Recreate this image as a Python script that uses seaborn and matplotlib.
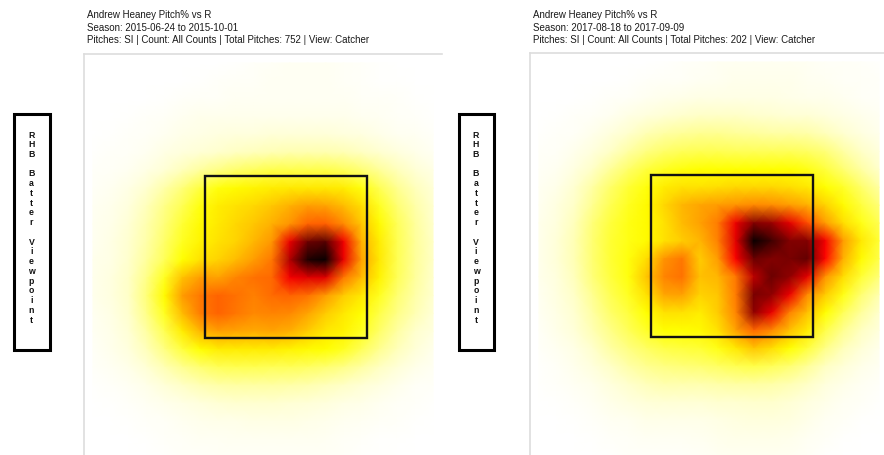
import numpy as np
import pandas as pd
import matplotlib
matplotlib.use("Agg")
import matplotlib.pyplot as plt
from matplotlib.colors import LinearSegmentedColormap
from matplotlib.patches import Rectangle
import seaborn as sns

# Sinker location density (0-100, catcher's view), rows run top to bottom,
# columns run left to right across the plotting window.
density_2015 = [
    [0, 0, 0, 0, 0, 0, 0, 0, 1, 2, 3, 4, 4, 4, 3, 2, 1, 0, 0, 0],
    [0, 0, 0, 0, 0, 0, 1, 2, 3, 3, 4, 4, 4, 4, 3, 2, 1, 1, 0, 0],
    [0, 0, 0, 0, 1, 2, 3, 3, 4, 4, 4, 4, 4, 4, 4, 3, 3, 2, 1, 0],
    [0, 0, 1, 2, 3, 5, 6, 6, 6, 6, 6, 6, 6, 6, 6, 5, 4, 3, 2, 1],
    [0, 1, 2, 3, 5, 7, 8, 9, 10, 10, 11, 11, 11, 11, 10, 9, 7, 5, 4, 2],
    [1, 2, 3, 5, 8, 10, 12, 14, 16, 17, 18, 19, 19, 19, 18, 16, 13, 10, 7, 4],
    [2, 3, 5, 8, 12, 17, 22, 26, 29, 31, 33, 33, 33, 33, 31, 28, 23, 17, 12, 8],
    [3, 5, 8, 13, 20, 27, 34, 39, 41, 42, 43, 44, 44, 44, 43, 39, 32, 24, 17, 11],
    [4, 6, 10, 17, 25, 32, 39, 43, 45, 47, 50, 54, 58, 57, 52, 46, 37, 28, 20, 13],
    [5, 7, 12, 19, 27, 35, 41, 44, 47, 50, 54, 60, 70, 71, 62, 50, 41, 31, 22, 14],
    [5, 8, 13, 20, 29, 37, 42, 45, 48, 53, 59, 78, 90, 92, 76, 54, 43, 32, 23, 15],
    [6, 8, 14, 22, 31, 40, 45, 48, 52, 58, 66, 84, 97, 99, 78, 57, 44, 32, 23, 15],
    [6, 9, 15, 25, 37, 51, 58, 57, 63, 67, 69, 75, 80, 80, 66, 52, 42, 31, 22, 14],
    [6, 9, 15, 27, 41, 58, 66, 70, 67, 64, 68, 70, 67, 58, 49, 44, 37, 28, 20, 13],
    [5, 8, 14, 25, 37, 52, 65, 70, 66, 62, 63, 62, 56, 49, 44, 40, 33, 25, 18, 11],
    [4, 7, 12, 21, 32, 43, 53, 57, 56, 55, 56, 54, 49, 44, 42, 37, 29, 21, 14, 9],
    [3, 6, 10, 17, 26, 34, 40, 43, 43, 43, 43, 42, 41, 40, 37, 31, 24, 17, 11, 6],
    [2, 4, 7, 12, 18, 24, 28, 31, 32, 32, 31, 31, 30, 28, 25, 21, 16, 11, 7, 4],
    [1, 2, 4, 7, 11, 15, 18, 20, 21, 21, 21, 20, 19, 17, 15, 12, 9, 6, 3, 2],
    [0, 1, 2, 4, 6, 8, 10, 12, 13, 13, 13, 12, 11, 10, 8, 7, 5, 3, 2, 1],
    [0, 0, 1, 2, 3, 5, 6, 7, 7, 8, 8, 8, 7, 6, 5, 4, 3, 2, 1, 0],
    [0, 0, 0, 1, 2, 3, 4, 4, 5, 5, 5, 5, 5, 4, 3, 2, 1, 1, 0, 0],
    [0, 0, 0, 0, 1, 2, 2, 3, 3, 3, 3, 3, 3, 3, 2, 1, 1, 0, 0, 0],
]

density_2017 = [
    [0, 0, 0, 0, 0, 0, 0, 1, 2, 3, 4, 5, 5, 5, 5, 4, 3, 3, 2, 1],
    [0, 0, 0, 0, 0, 1, 2, 3, 3, 4, 5, 6, 6, 6, 6, 5, 4, 3, 3, 2],
    [0, 0, 0, 1, 2, 3, 5, 6, 7, 8, 8, 8, 8, 8, 7, 6, 6, 5, 3, 2],
    [0, 1, 2, 3, 5, 8, 10, 12, 14, 15, 15, 15, 14, 13, 12, 12, 10, 8, 6, 4],
    [1, 2, 3, 6, 10, 14, 18, 21, 23, 24, 24, 23, 22, 21, 21, 20, 17, 13, 9, 6],
    [2, 3, 6, 10, 15, 21, 26, 29, 31, 32, 32, 31, 31, 31, 31, 30, 27, 21, 15, 10],
    [3, 5, 9, 15, 23, 29, 34, 37, 39, 40, 40, 40, 40, 40, 40, 38, 34, 28, 21, 14],
    [4, 7, 13, 21, 29, 35, 39, 43, 45, 45, 46, 47, 47, 47, 46, 44, 40, 36, 29, 21],
    [5, 9, 15, 24, 32, 37, 41, 47, 53, 56, 58, 60, 62, 61, 58, 54, 48, 41, 34, 27],
    [6, 10, 17, 27, 34, 38, 41, 45, 52, 57, 65, 77, 88, 86, 79, 72, 58, 46, 38, 32],
    [6, 11, 18, 28, 35, 38, 41, 45, 49, 53, 64, 80, 99, 94, 88, 88, 75, 58, 44, 35],
    [6, 11, 18, 28, 35, 39, 46, 60, 66, 49, 58, 74, 90, 88, 89, 91, 73, 54, 41, 33],
    [6, 10, 17, 27, 34, 39, 50, 63, 67, 51, 53, 66, 83, 90, 87, 79, 60, 46, 35, 27],
    [5, 9, 15, 24, 32, 37, 45, 56, 57, 48, 50, 65, 89, 87, 77, 62, 49, 38, 28, 19],
    [4, 8, 13, 21, 29, 34, 40, 45, 45, 43, 49, 63, 87, 78, 64, 51, 40, 31, 22, 14],
    [3, 7, 11, 18, 25, 31, 36, 40, 40, 41, 45, 57, 69, 62, 51, 43, 33, 24, 16, 10],
    [2, 5, 8, 14, 21, 26, 30, 33, 34, 35, 38, 44, 50, 46, 40, 34, 25, 17, 11, 6],
    [1, 3, 6, 10, 15, 20, 24, 26, 27, 28, 30, 32, 33, 31, 28, 23, 16, 11, 7, 4],
    [1, 2, 4, 6, 10, 14, 17, 19, 19, 19, 20, 21, 21, 20, 18, 15, 10, 7, 4, 2],
    [0, 1, 2, 4, 7, 9, 11, 12, 12, 12, 13, 13, 14, 14, 12, 9, 7, 4, 3, 1],
    [0, 0, 1, 2, 4, 5, 7, 7, 7, 7, 8, 9, 10, 10, 9, 7, 4, 3, 1, 0],
    [0, 0, 0, 1, 2, 3, 4, 4, 4, 5, 6, 7, 7, 7, 6, 4, 3, 1, 0, 0],
    [0, 0, 0, 0, 1, 2, 2, 2, 2, 3, 4, 5, 5, 5, 4, 3, 1, 0, 0, 0],
]

header_2015 = [
    "Andrew Heaney Pitch% vs R",
    "Season: 2015-06-24 to 2015-10-01",
    "Pitches: SI | Count: All Counts | Total Pitches: 752 | View: Catcher",
]
header_2017 = [
    "Andrew Heaney Pitch% vs R",
    "Season: 2017-08-18 to 2017-09-09",
    "Pitches: SI | Count: All Counts | Total Pitches: 202 | View: Catcher",
]
viewpoint_label = "RHB Batter Viewpoint"

# strike zone in grid units (left, top, size)
zone_left, zone_top, zone_size = 6.26, 6.32, 9.05

plt.rcParams["font.family"] = ["Liberation Sans", "DejaVu Sans"]

heat_cmap = LinearSegmentedColormap.from_list(
    "pitch_heat",
    [
        (0.00, "#ffffff"),
        (0.05, "#fffff0"),
        (0.14, "#ffffcc"),
        (0.24, "#ffff90"),
        (0.33, "#ffff48"),
        (0.40, "#ffff00"),
        (0.48, "#ffd200"),
        (0.56, "#ffa500"),
        (0.64, "#ff8000"),
        (0.72, "#ff5a00"),
        (0.73, "#ff0000"),
        (0.80, "#e00000"),
        (0.87, "#900000"),
        (0.94, "#400000"),
        (1.00, "#000000"),
    ],
)

W, H = 884, 455
fig = plt.figure(figsize=(W / 100, H / 100), dpi=100)
fig.patch.set_facecolor("white")


def px_axes(left, top, width, height):
    return fig.add_axes([left / W, 1 - (top + height) / H, width / W, height / H])


cell = 17.9


def draw_panel(grid, left, top, header, header_x):
    nrows, ncols = len(grid), len(grid[0])
    ax = px_axes(left, top, ncols * cell, nrows * cell)
    sns.heatmap(
        pd.DataFrame(grid), ax=ax, cmap=heat_cmap, vmin=0, vmax=100,
        cbar=False, xticklabels=False, yticklabels=False, shading="gouraud",
    )
    ax.set_xlim(-0.5, ncols - 0.5)
    ax.set_ylim(nrows - 0.5, -0.5)
    ax.set_xlabel("")
    ax.set_ylabel("")
    for side in ("left", "top"):
        ax.spines[side].set_visible(True)
        ax.spines[side].set_color("#dddddd")
        ax.spines[side].set_linewidth(1.2)
    for side in ("right", "bottom"):
        ax.spines[side].set_visible(False)
    ax.add_patch(Rectangle((zone_left, zone_top), zone_size, zone_size,
                           fill=False, ec="#111111", lw=1.7, zorder=5))
    for k, line in enumerate(header):
        fig.text(header_x / W, 1 - (18.3 + 12.3 * k) / H, line, fontsize=7.0,
                 va="baseline", ha="left", color="#1a1a1a")
    return ax


def draw_viewpoint(x0, x1, y0=114.5, y1=349.5):
    fig.add_artist(Rectangle((x0 / W, 1 - y1 / H), (x1 - x0) / W, (y1 - y0) / H,
                             transform=fig.transFigure, fill=False,
                             ec="black", lw=2.2))
    cx = (x0 + x1) / 2
    for k, ch in enumerate(viewpoint_label):
        if ch == " ":
            continue
        fig.text(cx / W, 1 - (135 + k * 9.74) / H, ch, fontsize=6.3,
                 fontweight="bold", ha="center", va="center", color="#111111")


draw_panel(density_2015, 84, 54, header_2015, 87)
draw_panel(density_2017, 530, 53, header_2017, 533)
draw_viewpoint(13.5, 49.5)
draw_viewpoint(458.5, 493.5)

fig.savefig("out.png", dpi=100, facecolor="white")
